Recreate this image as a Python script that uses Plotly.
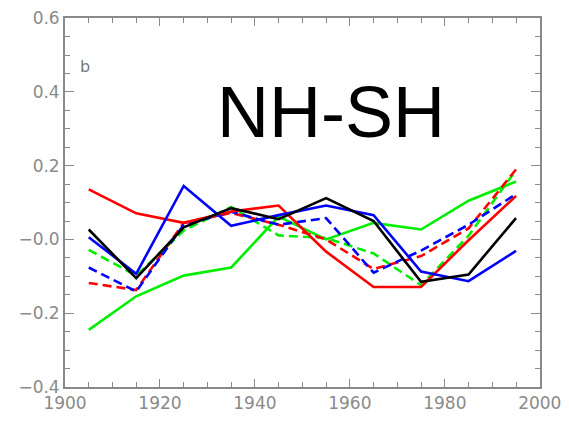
import plotly.graph_objects as go

years = [1905, 1915, 1925, 1935, 1945, 1955, 1965, 1975, 1985, 1995]

red_solid = [0.136, 0.071, 0.045, 0.076, 0.092, -0.033, -0.129, -0.129, -0.002, 0.118]
black_solid = [0.027, -0.105, 0.033, 0.085, 0.055, 0.112, 0.050, -0.115, -0.095, 0.058]
blue_solid = [0.006, -0.093, 0.145, 0.037, 0.066, 0.092, 0.066, -0.087, -0.113, -0.031]
green_solid = [-0.245, -0.154, -0.098, -0.076, 0.062, 0.000, 0.045, 0.027, 0.105, 0.157]
green_dashed = [-0.028, -0.098, 0.024, 0.088, 0.011, 0.004, -0.038, -0.124, 0.010, 0.188]
red_dashed = [-0.118, -0.137, 0.045, 0.072, 0.040, 0.000, -0.080, -0.045, 0.030, 0.190]
blue_dashed = [-0.076, -0.141, 0.040, 0.075, 0.040, 0.058, -0.090, -0.030, 0.040, 0.123]

y_ticks = [-0.4, -0.2, 0.0, 0.2, 0.4, 0.6]
y_ticktext = ["\u22120.4", "\u22120.2", "\u22120.0", "0.2", "0.4", "0.6"]
x_ticks = [1900, 1920, 1940, 1960, 1980, 2000]
x_ticktext = ["1900", "1920", "1940", "1960", "1980", "2000"]

series = [
    (green_solid, "#00ee00", "solid"),
    (green_dashed, "#00ee00", "9px,5px"),
    (red_dashed, "#ff0000", "9px,5px"),
    (blue_dashed, "#0000ff", "9px,5px"),
    (red_solid, "#ff0000", "solid"),
    (blue_solid, "#0000ff", "solid"),
    (black_solid, "#000000", "solid"),
]

fig = go.Figure()
for vals, col, dash in series:
    fig.add_trace(go.Scatter(x=years, y=vals, mode="lines",
                             line=dict(color=col, width=2.6, dash=dash),
                             showlegend=False, hoverinfo="skip"))

axis_col = "#8a8a8a"
tickfont = dict(family="DejaVu Sans", size=17, color="#8a8a8a")

fig.update_xaxes(range=[1900, 2000.05], tickvals=x_ticks, ticktext=x_ticktext,
                 showgrid=False, zeroline=False, showline=True, linecolor=axis_col,
                 linewidth=1.8, mirror="allticks", ticks="inside", ticklen=8,
                 tickcolor=axis_col, tickwidth=1.2, tickfont=tickfont,
                 minor=dict(ticks="inside", dtick=5, tick0=1900, ticklen=5,
                            tickcolor=axis_col, tickwidth=1.2, showgrid=False))
fig.update_yaxes(range=[-0.4, 0.6005], tickvals=y_ticks, ticktext=y_ticktext,
                 showgrid=False, zeroline=False, showline=True, linecolor=axis_col,
                 linewidth=1.8, mirror="allticks", ticks="inside", ticklen=9,
                 tickcolor=axis_col, tickwidth=1.2, tickfont=tickfont,
                 minor=dict(ticks="inside", dtick=0.05, tick0=0, ticklen=5,
                            tickcolor=axis_col, tickwidth=1.2, showgrid=False))

fig.add_annotation(x=1902.8, y=0.47, xref="x", yref="y", text="b", showarrow=False,
                   font=dict(family="DejaVu Sans", size=16, color="#777777"),
                   xanchor="left", yanchor="middle")
fig.add_annotation(x=1956, y=0.345, xref="x", yref="y", text="NH-SH", showarrow=False,
                   font=dict(family="Liberation Sans", size=72, color="#000000"),
                   xanchor="center", yanchor="middle")

fig.update_layout(width=569, height=421, plot_bgcolor="white", paper_bgcolor="white",
                  margin=dict(l=65, r=26, t=8, b=31))

fig.write_html("out.html")
